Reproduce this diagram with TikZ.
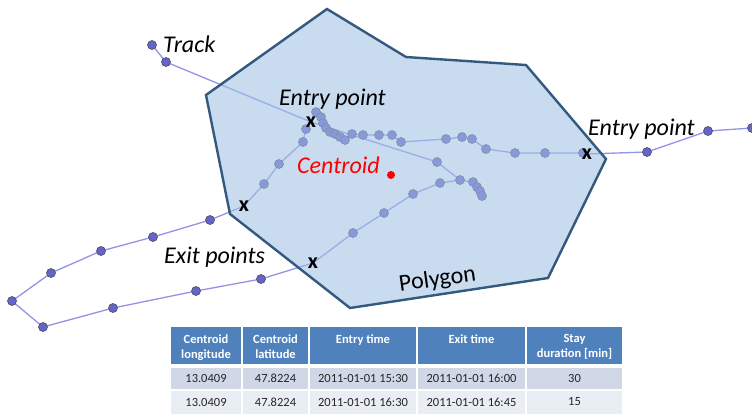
\documentclass[tikz,border=0pt]{standalone}
\usepackage{fontspec}
\setmainfont{Carlito}
\usepackage{tikz}
\usetikzlibrary{positioning,calc}
\definecolor{cTrack}{HTML}{9393E8}
\definecolor{cDot}{HTML}{6464CC}
\definecolor{cPoly}{HTML}{A2C1E5}
\definecolor{cEdge}{HTML}{34597F}
\definecolor{cHead}{HTML}{4F81BD}
\definecolor{cRowA}{HTML}{D0D8E8}
\definecolor{cRowB}{HTML}{E9EDF4}
\tikzset{
  dot/.style={circle,fill=cDot,draw=black!70,line width=.6pt,inner sep=0pt,minimum size=9pt},
  trk/.style={cTrack,line width=1.3pt,line join=round},
  poly/.style={draw=cEdge,line width=2.4pt,fill=cPoly,fill opacity=.58},
  lbl/.style={font=\fontsize{24}{28}\selectfont\itshape,inner sep=0pt,anchor=base west},
  xmark/.style={font=\fontsize{22}{24}\selectfont\bfseries,inner sep=0pt},
  hcell/.style={font=\fontsize{12.5}{15}\selectfont\bfseries,text=white,align=center,
                anchor=north,inner sep=0pt},
  bcell/.style={font=\fontsize{12.5}{15}\selectfont,text=black!85,inner sep=0pt},
}

\begin{document}
\begin{tikzpicture}[x=1pt,y=-1pt]
  \fill[white] (0,0) rectangle (752,413);
  \useasboundingbox (0,0) rectangle (752,413);
  % track vertices, the x crossings are 3, 14, 24 and 49
  \foreach \x/\y [count=\i] in {152/45,166/62,311/122,437/162,460/180,473/182,477/187,
      480/191,482/196,440/183,413/194,384/213,353/233,313/263,261/279,196/291,113/308,
      43/327,12/301,51/273,101/251,153/237,210/220,244/206,264/184,279/164,303/142,
      306/129,316/112,321/117,323/123,326/128,330/132,335/134,340/137,345/140,352/134,
      363/135,379/135,392/135,401/142,446/139,462/137,472/139,486/149,515/153,545/153,
      583/153,587/154,647/152,708/131,752/128}
    \coordinate (p\i) at (\x,\y);
  \draw[trk] (p1) \foreach \i in {2,...,9}{ -- (p\i)};
  \draw[trk] (p5) \foreach \i in {10,...,52}{ -- (p\i)};
  \foreach \i in {1,2,4,5,...,13,15,16,...,23,25,26,...,48,50,51,52}
    \node[dot] (d\i) at (p\i) {};

  % the area, see-through over the track
  \draw[poly] (327,9) -- (406,57) -- (526,65) -- (606,159) -- (548,278)
    -- (350,308) -- (230,214) -- (206,95) -- cycle;

  \foreach \i/\n in {3/1,14/2,24/3,49/4}
    \node[xmark] (x\n) at (p\i) {x};
  \node[circle,fill=red,inner sep=0pt,minimum size=8pt] (cen) at (391,175) {};

  \node[lbl] (track) at (163,52) {Track};
  \node[lbl] (entryA) at (279,105) {Entry point};
  \node[lbl] (entryB) at (588,135) {Entry point};
  \node[lbl] (exits) at (164,263) {Exit points};
  \node[lbl,red] (cenlbl) at (297,173) {Centroid};
  \node[font=\fontsize{24}{28}\selectfont,inner sep=0pt,rotate=8] (polylbl) at (437.5,280) {Polygon};

  % stays table
  \foreach \a/\b/\txt [count=\c] in {170/242/{Centroid\\longitude},242/309/{Centroid\\latitude},
      309/417/{Entry time},417/526/{Exit time},526/623/{Stay\\duration [min]}}{
    \fill[cHead] (\a+.6,327) rectangle (\b-.6,364);
    \fill[cRowA] (\a+.6,367.5) rectangle (\b-.6,389.4);
    \fill[cRowB] (\a+.6,390.6) rectangle (\b-.6,414);
    \node[hcell] (h\c) at ({(\a+\b)/2},334.5) {\txt};
  }
  \foreach \cx/\u/\v [count=\c] in {206/13.0409/13.0409,275.5/47.8224/47.8224,
      363/{2011-01-01 15:30}/{2011-01-01 16:30},471.5/{2011-01-01 16:00}/{2011-01-01 16:45},
      574.5/30/15}{
    \node[bcell] (r\c) at (\cx,378.5) {\u};
    \node[bcell] (s\c) at (\cx,402) {\v};
  }
\end{tikzpicture}
\end{document}
